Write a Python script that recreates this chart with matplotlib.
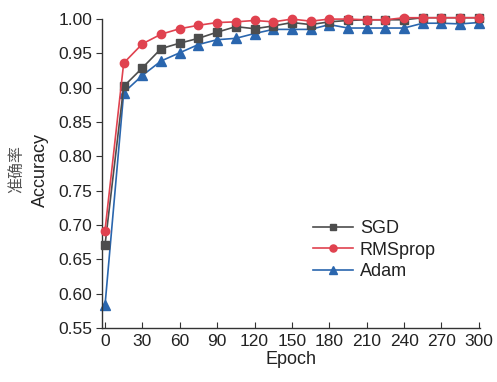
import matplotlib
matplotlib.use("Agg")
import matplotlib.pyplot as plt

epochs = list(range(0, 301, 15))
sgd = [0.671, 0.902, 0.929, 0.957, 0.965, 0.972, 0.981, 0.989, 0.986, 0.990, 0.995,
       0.992, 0.996, 0.998, 0.999, 0.999, 0.999, 1.002, 1.002, 1.002, 1.002]
rmsprop = [0.692, 0.936, 0.964, 0.978, 0.986, 0.991, 0.995, 0.996, 0.998, 0.996, 1.000,
           0.997, 1.000, 1.000, 0.999, 0.999, 1.002, 1.002, 1.002, 1.002, 1.002]
adam = [0.583, 0.893, 0.918, 0.939, 0.951, 0.963, 0.970, 0.972, 0.979, 0.985, 0.985,
        0.985, 0.992, 0.987, 0.987, 0.987, 0.987, 0.994, 0.994, 0.993, 0.995]
xticks = list(range(0, 301, 30))
yticks = [0.55, 0.60, 0.65, 0.70, 0.75, 0.80, 0.85, 0.90, 0.95, 1.00]

plt.rcParams['font.family'] = ['Liberation Sans', 'Noto Sans CJK SC']
fig = plt.figure(figsize=(4.97, 3.82), dpi=100)
ax = fig.add_axes([0.205, 0.141, 0.761, 0.809])

ax.plot(epochs, sgd, color='#4d4d4d', marker='s', markersize=5.5, lw=1.2, label='SGD', clip_on=False, zorder=3)
ax.plot(epochs, rmsprop, color='#e0424f', marker='o', markersize=6, lw=1.2, label='RMSprop', clip_on=False, zorder=4)
ax.plot(epochs, adam, color='#2a66ae', marker='^', markersize=6.5, lw=1.2, label='Adam', clip_on=False, zorder=2)

ax.set_xlim(-2.5, 301)
ax.set_ylim(0.55, 1.00)
ax.set_xticks(xticks)
ax.set_yticks(yticks)
ax.set_yticklabels([f"{v:.2f}" for v in yticks])
for s in ['top', 'right']:
    ax.spines[s].set_visible(False)
for s in ['left', 'bottom']:
    ax.spines[s].set_color('#333333')
    ax.spines[s].set_linewidth(1.0)
ax.tick_params(axis='x', direction='in', length=4, labelsize=12.5, colors='#333333', labelcolor='#222222', pad=4)
ax.tick_params(axis='y', direction='out', length=4, labelsize=12.5, colors='#333333', labelcolor='#222222', pad=3)

ax.set_xlabel('Epoch', fontsize=13, color='#222222', labelpad=2)
fig.text(18/497, 1 - 169/382, '准确率', rotation=90, ha='center', va='center', fontsize=11.5,
         color='#555555', family=['Noto Sans CJK SC'])
fig.text(40/497, 1 - 170/382, 'Accuracy', rotation=90, ha='center', va='center', fontsize=13,
         color='#222222')

leg = fig.legend(loc='upper left', bbox_to_anchor=(313/497, 1 - 220/382), frameon=False,
                 fontsize=13, borderpad=0, handlelength=2.2, handletextpad=0.4,
                 labelspacing=0.25, borderaxespad=0, markerscale=0.85)
for t in leg.get_texts():
    t.set_color('#222222')

fig.savefig('out.png', dpi=100)
